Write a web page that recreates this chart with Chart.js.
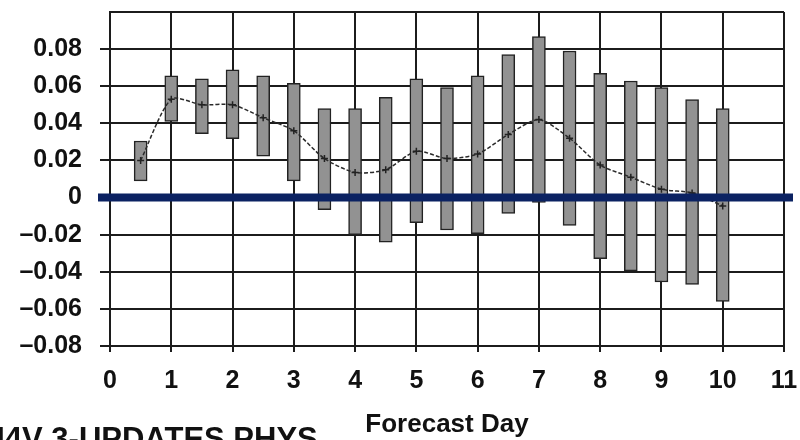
<!DOCTYPE html>
<html>
<head>
<meta charset="utf-8">
<script src="https://cdn.jsdelivr.net/npm/chart.js@4"></script>
<style>
  html, body { margin: 0; padding: 0; background: #ffffff; }
  #wrap { width: 800px; height: 440px; }
</style>
</head>
<body>
<div id="wrap"><canvas id="c" width="800" height="440"></canvas></div>
<script>
// Forecast day of each verification (half-day steps)
const days = [0.5, 1, 1.5, 2, 2.5, 3, 3.5, 4, 4.5, 5, 5.5, 6, 6.5, 7, 7.5, 8, 8.5, 9, 9.5, 10];
// Lower and upper end of the spread at each day
const rangeLow  = [0.009, 0.041, 0.0344, 0.0317, 0.0223, 0.009, -0.0065, -0.020, -0.024, -0.0135,
                   -0.0175, -0.0195, -0.0085, -0.0026, -0.015, -0.033, -0.0395, -0.0455, -0.0468, -0.056];
const rangeHigh = [0.0305, 0.0656, 0.064, 0.0688, 0.0656, 0.0615, 0.048, 0.048, 0.054, 0.064,
                   0.0593, 0.0656, 0.077, 0.0868, 0.079, 0.067, 0.0628, 0.0593, 0.0528, 0.048];
// Mean difference at each day
const meanValue = [0.020, 0.053, 0.050, 0.050, 0.043, 0.036, 0.021, 0.0135, 0.015, 0.025,
                   0.021, 0.0235, 0.034, 0.042, 0.032, 0.0175, 0.011, 0.0045, 0.0025, -0.0045];

const axisTitle = 'Forecast Day';
const footerText = 'M4V 3-UPDATES PHYS';

const ink = '#1c1c1c';
Chart.defaults.font.family = '"Liberation Sans", Arial, sans-serif';
Chart.defaults.color = '#111111';

const barData = days.map((d, i) => ({ x: d, y: [rangeLow[i], rangeHigh[i]] }));
const meanData = days.map((d, i) => ({ x: d, y: meanValue[i] }));

// Heavy zero reference line and the caption at the lower left
const zeroLine = {
  id: 'zeroLine',
  afterDraw(chart) {
    const { ctx, chartArea: a, scales: { y } } = chart;
    const py = y.getPixelForValue(0);
    ctx.save();
    ctx.strokeStyle = '#0b2262';
    ctx.lineWidth = 8;
    ctx.beginPath();
    ctx.moveTo(a.left - 12, py);
    ctx.lineTo(a.right + 9, py);
    ctx.stroke();
    ctx.font = 'bold 31px "Liberation Sans", Arial, sans-serif';
    ctx.fillStyle = '#111111';
    ctx.textBaseline = 'alphabetic';
    ctx.textAlign = 'left';
    ctx.fillText(footerText, -21, 449);
    ctx.restore();
  }
};

new Chart(document.getElementById('c'), {
  type: 'bar',
  data: {
    datasets: [
      {
        type: 'line',
        data: meanData,
        order: 0,
        borderColor: '#2a2a2a',
        borderWidth: 1.5,
        borderDash: [4, 2],
        tension: 0.25,
        pointStyle: 'cross',
        pointRadius: 3.5,
        pointBorderWidth: 1.5,
        pointBorderColor: '#222222',
        fill: false
      },
      {
        type: 'bar',
        data: barData,
        order: 1,
        barThickness: 13,
        backgroundColor: '#929292',
        borderColor: '#222222',
        borderWidth: 1.5,
        borderSkipped: false
      }
    ]
  },
  options: {
    responsive: false,
    animation: false,
    layout: { padding: { left: 0, right: 16, top: 12, bottom: 0 } },
    plugins: { legend: { display: false }, tooltip: { enabled: false } },
    scales: {
      x: {
        type: 'linear',
        min: 0,
        max: 11,
        offset: false,
        z: 1,
        grid: { offset: false, color: ink, lineWidth: 2, tickLength: 6, tickColor: ink },
        border: { display: true, color: ink, width: 2 },
        ticks: { stepSize: 1, padding: 14, font: { size: 25, weight: 'bold' }, color: '#111111' },
        title: { display: true, text: axisTitle, font: { size: 26, weight: 'bold' }, padding: { top: 0, bottom: 0 }, color: '#111111' },
        afterFit(scale) {
          scale.height = 94;
          scale.paddingLeft = 0;
          scale.paddingRight = 0;
        }
      },
      y: {
        min: -0.08,
        max: 0.1,
        z: 1,
        grid: {
          color: ink,
          lineWidth: 2,
          tickLength: 10,
          tickColor: (c) => (c.tick && c.tick.value > 0.09 ? 'rgba(0,0,0,0)' : ink)
        },
        border: { display: true, color: ink, width: 2 },
        ticks: {
          stepSize: 0.02,
          padding: 18,
          font: { size: 25, weight: 'bold' },
          color: '#111111',
          callback: (v) => {
            if (v > 0.09) return '';
            if (Math.abs(v) < 1e-9) return '0';
            return (v < 0 ? '\u2013' : '') + Math.abs(v).toFixed(2);
          }
        },
        afterFit(scale) {
          scale.width = 110;
          scale.paddingTop = 0;
          scale.paddingBottom = 0;
        }
      }
    }
  },
  plugins: [zeroLine]
});
</script>
</body>
</html>
